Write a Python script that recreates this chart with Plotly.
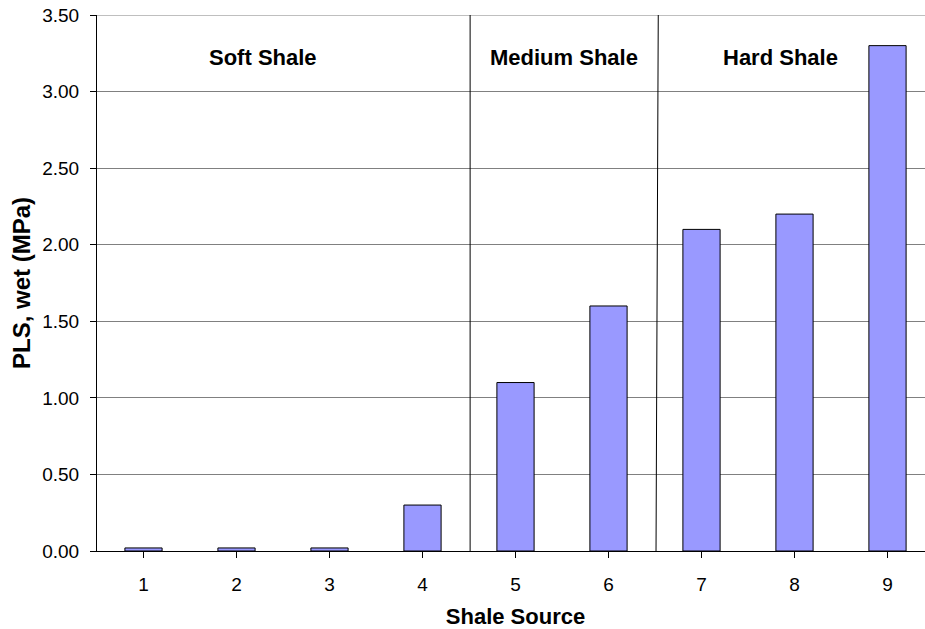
import plotly.graph_objects as go

# shale source categories and wet point load strength (MPa)
sources = ["1", "2", "3", "4", "5", "6", "7", "8", "9"]
pls_wet = [0.02, 0.02, 0.02, 0.30, 1.10, 1.60, 2.10, 2.20, 3.30]

# group labels and where they sit
group_names = ["Soft Shale", "Medium Shale", "Hard Shale"]
group_x = [1.28, 4.52, 6.85]
group_y = [3.22, 3.22, 3.22]

# divider lines (category index units, bottom -> top)
dividers = [(3.512, 3.512), (5.511, 5.535)]

fig = go.Figure()
fig.add_trace(go.Bar(
    x=list(range(len(sources))),
    y=pls_wet,
    width=0.4,
    marker=dict(color="#9999ff", line=dict(color="black", width=1)),
))

for name, gx, gy in zip(group_names, group_x, group_y):
    fig.add_annotation(x=gx, y=gy, text="<b>%s</b>" % name, showarrow=False,
                       font=dict(size=22, color="black"))

for bot, top in dividers:
    fig.add_shape(type="line", xref="x", yref="y", x0=bot, x1=top, y0=0, y1=3.5,
                  line=dict(color="black", width=1))

# top gridline (at the very edge of the range)
fig.add_shape(type="line", xref="paper", yref="y", x0=0, x1=1, y0=3.5, y1=3.5,
              line=dict(color="#808080", width=1), layer="below")

fig.update_xaxes(
    tickmode="array", tickvals=list(range(len(sources))), ticktext=sources,
    range=[-0.5, 8.5], tickson="boundaries", ticks="outside", ticklen=6,
    tickcolor="black", showline=True, linecolor="black", linewidth=1,
    showgrid=False, zeroline=False, ticklabelstandoff=10, automargin=False,
    title=dict(text="<b>Shale Source</b>", font=dict(size=22, color="black"), standoff=14),
    tickfont=dict(size=19, color="black"),
)
fig.update_yaxes(
    range=[0, 3.5], dtick=0.5, tickformat=".2f", ticks="outside", ticklen=6,
    tickcolor="black", showline=True, linecolor="black", linewidth=1,
    showgrid=True, gridcolor="#808080", gridwidth=1, zeroline=False,
    ticklabelstandoff=7, ticklabeloverflow="allow", automargin=False,
    title=dict(text="<b>PLS, wet (MPa)</b>", font=dict(size=24, color="black"), standoff=4),
    tickfont=dict(size=19, color="black"),
)
fig.update_layout(
    width=935, height=629,
    margin=dict(l=97, r=1, t=15, b=78, autoexpand=False),
    plot_bgcolor="white", paper_bgcolor="white",
    font=dict(family="Liberation Sans, Arial, sans-serif", color="black"),
    showlegend=False,
)

# drop the default page margin so the chart sits at the window's corner
fig.write_html("out.html", config={"displayModeBar": False},
               post_script="document.body.style.margin='0px';")
